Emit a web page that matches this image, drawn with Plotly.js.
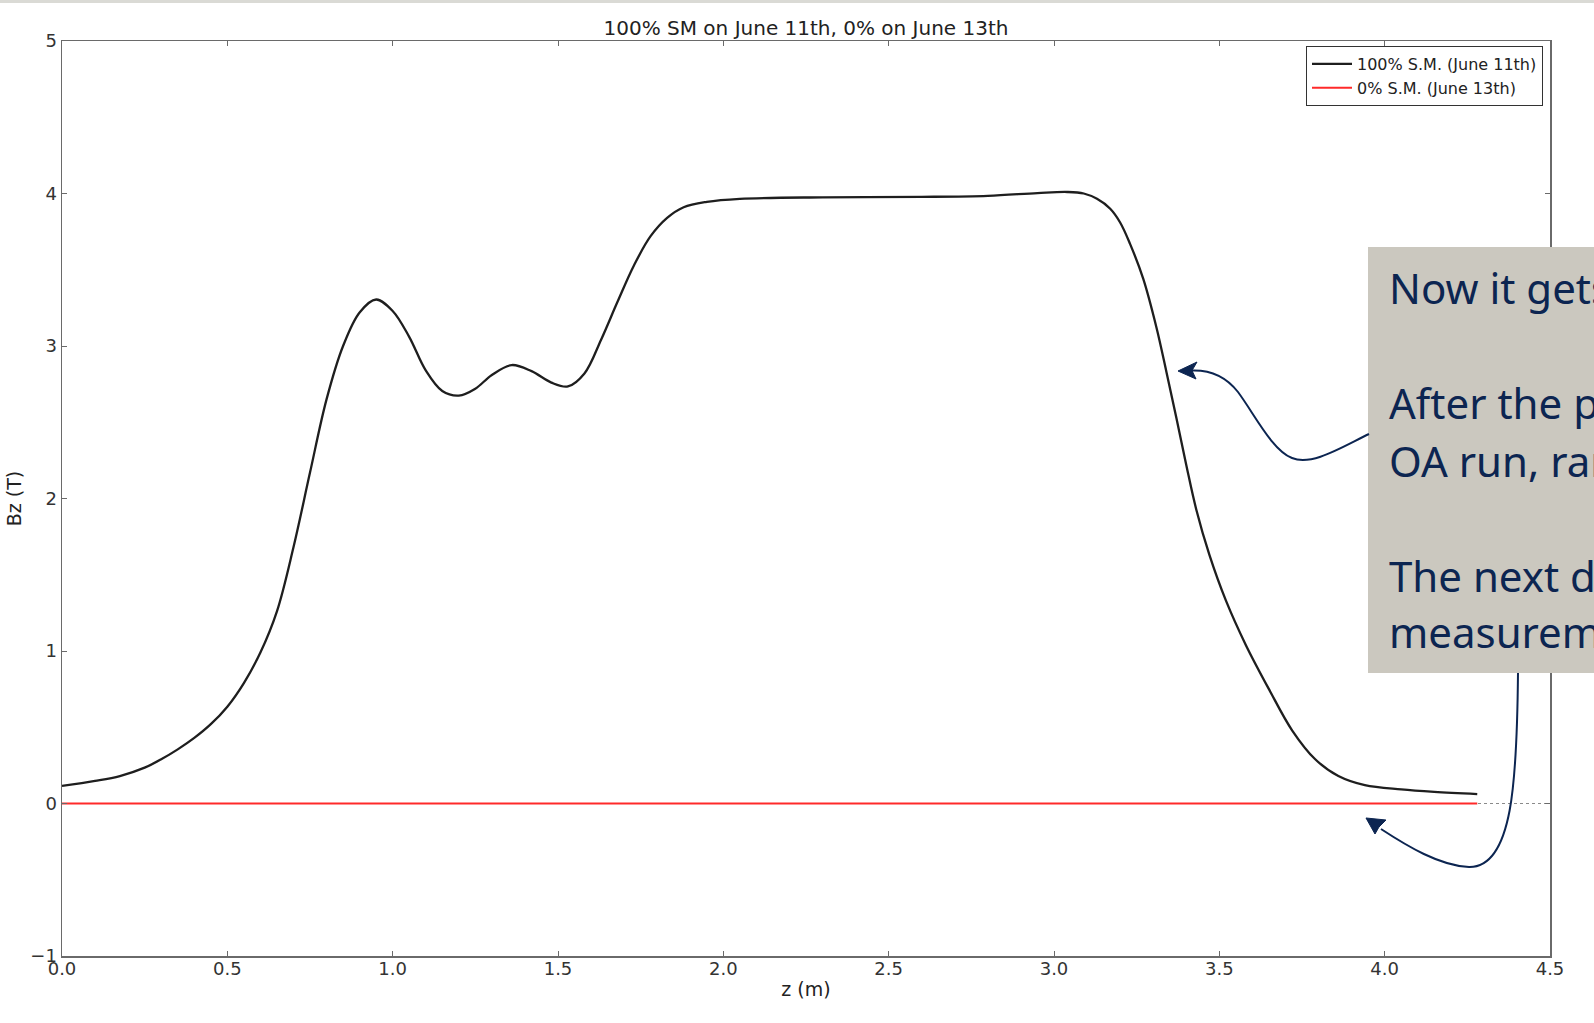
<!DOCTYPE html>
<html>
<head>
<meta charset="utf-8">
<script src="https://cdn.plot.ly/plotly-3.0.1.min.js"></script>
<style>
  html, body { margin: 0; padding: 0; overflow: hidden; background: #ffffff; }
  #chart { width: 1594px; height: 1023px; }
</style>
</head>
<body>
<div id="chart"></div>
<script>
// Longitudinal field profile Bz(z) of the magnet at full excitation vs. off
const z100 = [0.00, 0.10, 0.175, 0.25, 0.30, 0.35, 0.40, 0.45, 0.50, 0.55, 0.60, 0.65, 0.70,
  0.75, 0.80, 0.85, 0.90, 0.95, 1.00, 1.05, 1.10, 1.15, 1.20, 1.25, 1.30, 1.36,
  1.42, 1.48, 1.53, 1.58, 1.63, 1.68, 1.73, 1.78, 1.83, 1.88, 1.95, 2.05, 2.30,
  2.60, 2.80, 2.95, 3.04, 3.09, 3.13, 3.17, 3.20, 3.23, 3.27, 3.31, 3.34, 3.37, 3.40,
  3.43, 3.47, 3.52, 3.58, 3.65, 3.72, 3.79, 3.86, 3.94, 4.05, 4.15, 4.28];
const bz100 = [0.115, 0.148, 0.18, 0.235, 0.29, 0.355, 0.43, 0.52, 0.635, 0.79, 0.99, 1.26, 1.68,
  2.17, 2.65, 3.0, 3.22, 3.305, 3.23, 3.06, 2.84, 2.705, 2.675, 2.72, 2.81, 2.875,
  2.835, 2.76, 2.735, 2.82, 3.04, 3.29, 3.53, 3.72, 3.84, 3.91, 3.945, 3.965, 3.975,
  3.978, 3.985, 4.003, 4.01, 4.0, 3.965, 3.90, 3.81, 3.67, 3.44, 3.12, 2.83, 2.53, 2.22,
  1.93, 1.63, 1.33, 1.04, 0.75, 0.48, 0.29, 0.18, 0.12, 0.092, 0.076, 0.062];

const z0 = [0.0, 1.0, 2.0, 3.0, 4.0, 4.28];
const bz0 = [0.0, 0.0, 0.0, 0.0, 0.0, 0.0];

const seriesNames = ['100% S.M. (June 11th)', '0% S.M. (June 13th)'];
const chartTitle = '100% SM on June 11th, 0% on June 13th';
const xTicks = [0.0, 0.5, 1.0, 1.5, 2.0, 2.5, 3.0, 3.5, 4.0, 4.5];
const yTicks = [-1, 0, 1, 2, 3, 4, 5];

// Callout text (runs off the right edge of the page)
const noteLines = ['Now it gets', 'After the p', 'OA run, ram', 'The next d', 'measurem'];
const noteBaselines = [304, 419, 477, 592, 648];

// page geometry helpers: pixel -> paper fraction
const W = 1594, H = 1023;
const M = { l: 62, r: 44, t: 41, b: 67 };
const PW = W - M.l - M.r, PH = H - M.t - M.b;
const px = X => (X - M.l) / PW;
const py = Y => (H - M.b - Y) / PH;
const path = pts => pts.map(s => s.replace(/(-?\d+(\.\d+)?) (-?\d+(\.\d+)?)/g,
  (m, a, _b, c) => px(+a).toFixed(5) + ',' + py(+c).toFixed(5))).join(' ');

const navy = '#0c2551';
const traces = [
  { x: z100, y: bz100, type: 'scatter', mode: 'lines', name: seriesNames[0],
    line: { color: '#1e1e1e', width: 2.3, shape: 'spline', smoothing: 1.0 } },
  { x: z0, y: bz0, type: 'scatter', mode: 'lines', name: seriesNames[1],
    line: { color: '#ff2a2a', width: 2 } }
];

const fontMpl = 'DejaVu Sans, sans-serif';
const shapes = [
  // dotted zero reference line
  { type: 'line', xref: 'paper', yref: 'y', x0: 0, x1: 1, y0: 0, y1: 0,
    line: { color: '#8a8a8a', width: 1, dash: 'dot' }, layer: 'below' },
  // thin strip at the top of the page
  { type: 'rect', xref: 'paper', yref: 'paper', x0: px(0), x1: px(W), y0: py(3), y1: py(-2),
    fillcolor: '#dadad5', line: { width: 0 }, layer: 'above' },
  // callout box
  { type: 'rect', xref: 'paper', yref: 'paper', x0: px(1368), x1: px(1610), y0: py(673), y1: py(247),
    fillcolor: '#cbc8bf', line: { width: 0 }, layer: 'above' },
  // curved pointer to the falling edge
  { type: 'path', xref: 'paper', yref: 'paper', layer: 'above',
    path: path(['M 1369 434', 'C 1340 448', '1312 466', '1292 458', 'C 1272 450', '1255 415', '1238 392', 'C 1224 374', '1208 370', '1192 370.5']),
    line: { color: navy, width: 2 } },
  { type: 'path', xref: 'paper', yref: 'paper', layer: 'above',
    path: path(['M 1178 371', 'L 1197 362', 'L 1192 370.5', 'L 1196 379', 'Z']),
    fillcolor: navy, line: { color: navy, width: 1 } },
  // curved pointer to the zero line
  { type: 'path', xref: 'paper', yref: 'paper', layer: 'above',
    path: path(['M 1518 673', 'C 1517 780', '1513 868', '1469 867', 'C 1440 866', '1407 846', '1381 829']),
    line: { color: navy, width: 2 } },
  { type: 'path', xref: 'paper', yref: 'paper', layer: 'above',
    path: path(['M 1366 818', 'L 1386 820', 'L 1379 827', 'L 1375 834', 'Z']),
    fillcolor: navy, line: { color: navy, width: 1 } }
];

const noteSize = 42;
const annotations = noteLines.map((t, i) => ({
  xref: 'paper', yref: 'paper', x: px(1387), y: py(noteBaselines[i] - 0.388 * noteSize),
  xanchor: 'left', yanchor: 'middle', showarrow: false, text: t, align: 'left',
  font: { family: 'Noto Sans, sans-serif', size: noteSize, color: navy }
}));

const axisCommon = {
  showline: true, linecolor: '#6a6a6a', linewidth: 1.5, mirror: 'ticks',
  ticks: 'inside', ticklen: 5, tickwidth: 1, tickcolor: '#6a6a6a',
  showgrid: false, zeroline: false,
  tickfont: { family: fontMpl, size: 18, color: '#333333' }
};

const layout = {
  width: W, height: H, margin: M,
  paper_bgcolor: '#ffffff', plot_bgcolor: '#ffffff',
  title: { text: chartTitle, x: 0.5, xref: 'paper', y: 1 - 28 / H, yref: 'container',
    xanchor: 'center', yanchor: 'middle',
    font: { family: fontMpl, size: 20, color: '#222222' } },
  xaxis: Object.assign({}, axisCommon, {
    range: [0, 4.5], tickvals: xTicks, ticktext: xTicks.map(v => v.toFixed(1)),
    ticklabelstandoff: -4,
    title: { text: 'z (m)', standoff: 4, font: { family: fontMpl, size: 19, color: '#222222' } }
  }),
  yaxis: Object.assign({}, axisCommon, {
    range: [-1, 5], tickvals: yTicks,
    title: { text: 'Bz (T)', standoff: 3, font: { family: fontMpl, size: 19, color: '#222222' } }
  }),
  showlegend: true,
  legend: { x: px(1543), xanchor: 'right', y: py(46), yanchor: 'top',
    bgcolor: '#ffffff', bordercolor: '#333333', borderwidth: 1, itemwidth: 40,
    font: { family: fontMpl, size: 16, color: '#222222' } },
  shapes: shapes,
  annotations: annotations,
  hovermode: false
};

Plotly.newPlot('chart', traces, layout, { staticPlot: true, displayModeBar: false });
</script>
</body>
</html>
